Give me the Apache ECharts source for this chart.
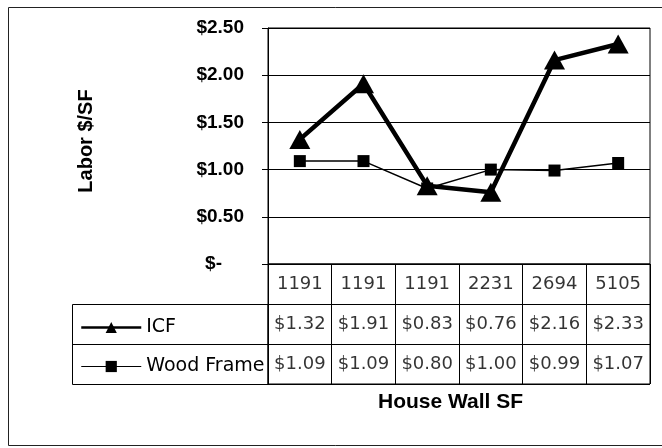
<!DOCTYPE html>
<html>
<head>
<meta charset="utf-8">
<script src="https://cdn.jsdelivr.net/npm/echarts@6/dist/echarts.min.js"></script>
<style>
  html, body { margin: 0; padding: 0; background: #fff; }
  #chart { width: 662px; height: 448px; }
</style>
</head>
<body>
<div id="chart"></div>
<script>
// data
const houseWallSF = ['1191', '1191', '1191', '2231', '2694', '5105'];
const icf = [1.32, 1.91, 0.83, 0.76, 2.16, 2.33];
const woodFrame = [1.09, 1.09, 0.80, 1.00, 0.99, 1.07];
const tableRows = ['header', 'ICF', 'Wood Frame'];

const money = v => '$' + v.toFixed(2);

// cells of the data table: [column, row, text]
const cells = [];
houseWallSF.forEach((h, i) => cells.push([i, 0, h]));
icf.forEach((v, i) => cells.push([i, 1, money(v)]));
woodFrame.forEach((v, i) => cells.push([i, 2, money(v)]));

const labelFont = '"Liberation Sans", Arial, sans-serif';
const tableFont = '"DejaVu Sans", sans-serif';

const chart = echarts.init(document.getElementById('chart'));

chart.setOption({
  animation: false,
  backgroundColor: '#fff',
  title: {
    text: 'House Wall SF',
    left: 373,
    top: 387,
    textStyle: { fontFamily: labelFont, fontWeight: 'bold', fontSize: 21, color: '#000' }
  },
  legend: {
    orient: 'vertical',
    left: 75,
    top: 313,
    itemWidth: 60,
    itemHeight: 14,
    itemGap: 20,
    textStyle: { fontFamily: tableFont, fontSize: 19, color: '#000' },
    data: [
      { name: 'ICF', lineStyle: { width: 2.5 } },
      { name: 'Wood Frame', lineStyle: { width: 1 } }
    ]
  },
  grid: [
    { left: 268, right: 12, top: 28, bottom: 184, show: true, borderColor: '#000', borderWidth: 1 },
    { left: 268, right: 12, top: 264, height: 120, show: true, borderColor: '#000', borderWidth: 1 }
  ],
  xAxis: [
    {
      gridIndex: 0,
      type: 'category',
      data: houseWallSF,
      axisLine: { lineStyle: { color: '#000' } },
      axisTick: { show: false },
      axisLabel: { show: false }
    },
    {
      gridIndex: 1,
      type: 'category',
      data: houseWallSF,
      axisLine: { show: false },
      axisTick: { show: false },
      axisLabel: { show: false },
      splitLine: { show: true, lineStyle: { color: '#000', width: 1 } }
    }
  ],
  yAxis: [
    {
      gridIndex: 0,
      type: 'value',
      min: 0,
      max: 2.5,
      interval: 0.5,
      name: 'Labor $/SF',
      nameLocation: 'middle',
      nameGap: 172,
      nameTextStyle: { fontFamily: labelFont, fontWeight: 'bold', fontSize: 20, color: '#000', padding: [0, 0, 0, 10] },
      axisLine: { show: true, lineStyle: { color: '#000' } },
      axisTick: { show: true, length: 6, lineStyle: { color: '#000' } },
      axisLabel: {
        margin: 24,
        fontFamily: labelFont,
        fontWeight: 'bold',
        fontSize: 19,
        color: '#000',
        formatter: v => (v === 0 ? '{z|$-}' : money(v)),
        rich: {
          z: { fontFamily: labelFont, fontWeight: 'bold', fontSize: 19, color: '#000', padding: [0, 22, 0, 0] }
        }
      },
      splitLine: { show: true, lineStyle: { color: '#000', width: 1 } }
    },
    {
      gridIndex: 1,
      type: 'category',
      data: tableRows,
      inverse: true,
      axisLine: { show: false },
      axisTick: { show: false },
      axisLabel: { show: false },
      splitLine: { show: true, lineStyle: { color: '#000', width: 1 } }
    }
  ],
  series: [
    {
      name: 'ICF',
      type: 'line',
      xAxisIndex: 0,
      yAxisIndex: 0,
      data: icf,
      z: 3,
      symbol: 'triangle',
      symbolSize: [21, 19],
      lineStyle: { color: '#000', width: 4.5 },
      itemStyle: { color: '#000' }
    },
    {
      name: 'Wood Frame',
      type: 'line',
      xAxisIndex: 0,
      yAxisIndex: 0,
      data: woodFrame,
      z: 2,
      symbol: 'rect',
      symbolSize: 12,
      lineStyle: { color: '#000', width: 1.5 },
      itemStyle: { color: '#000' }
    },
    {
      name: 'table',
      type: 'scatter',
      xAxisIndex: 1,
      yAxisIndex: 1,
      data: cells,
      symbolSize: 1,
      itemStyle: { color: 'transparent' },
      label: {
        show: true,
        position: 'inside',
        formatter: p => p.data[2],
        fontFamily: tableFont,
        fontSize: 18,
        color: '#000'
      }
    }
  ],
  graphic: [
    // outer chart border
    { type: 'rect', silent: true, shape: { x: 8.5, y: 7.5, width: 670, height: 438 },
      style: { fill: 'none', stroke: '#222', lineWidth: 1 } },
    // legend cells of the data table
    { type: 'rect', silent: true, shape: { x: 72.5, y: 304.5, width: 195.5, height: 80 },
      style: { fill: 'none', stroke: '#000', lineWidth: 1 } },
    { type: 'line', silent: true, shape: { x1: 72.5, y1: 344.5, x2: 268, y2: 344.5 },
      style: { stroke: '#000', lineWidth: 1 } }
  ]
});
</script>
</body>
</html>
